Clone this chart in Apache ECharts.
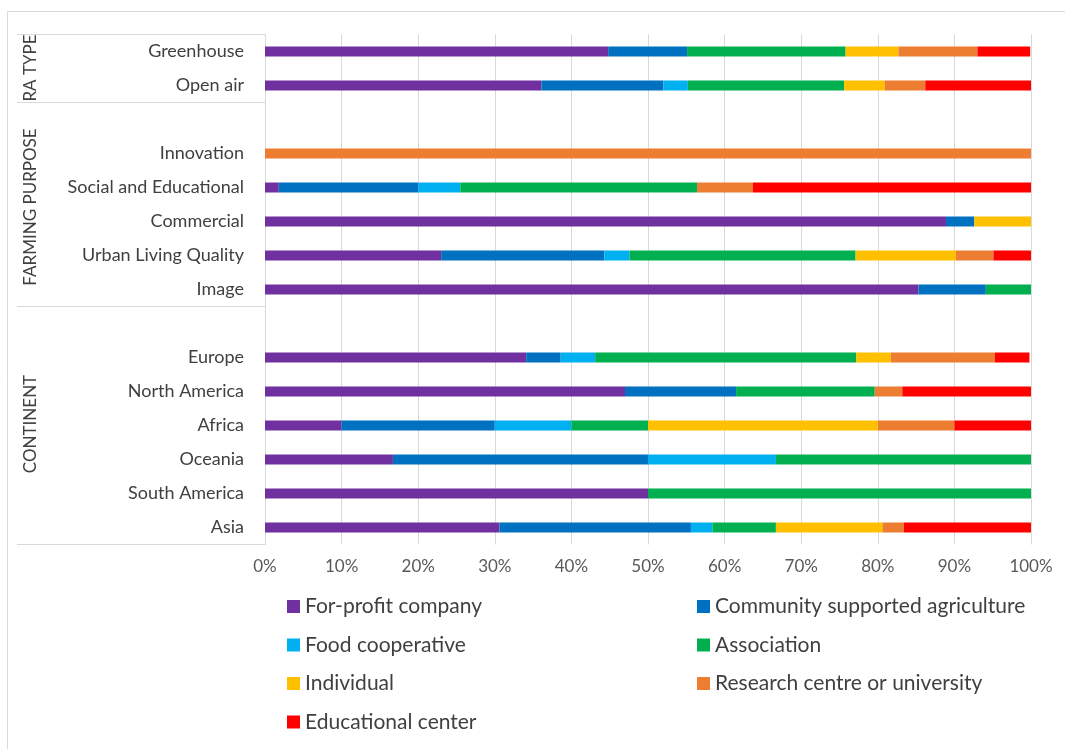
<!DOCTYPE html>
<html>
<head>
<meta charset="utf-8">
<script src="https://cdn.jsdelivr.net/npm/echarts@6/dist/echarts.min.js"></script>
<style>
html,body{margin:0;padding:0;background:#fff;}
#chart{width:1065px;height:749px;}
</style>
</head>
<body>
<div id="chart"></div>
<script>
var categories = ['Greenhouse','Open air',' ','Innovation','Social and Educational','Commercial','Urban Living Quality','Image','  ','Europe','North America','Africa','Oceania','South America','Asia'];
var seriesNames = ['For-profit company','Community supported agriculture','Food cooperative','Association','Individual','Research centre or university','Educational center'];
var forProfit   = [44.8, 36.1, null, 0,   1.8, 88.9, 23.0, 85.3, null, 34.1, 47.0, 10, 16.7, 50, 30.6];
var csa         = [10.3, 15.9, null, 0,  18.2,  3.7, 21.3,  8.8, null,  4.5, 14.5, 20, 33.3,  0, 25.0];
var coop        = [0,     3.2, null, 0,   5.5,  0,    3.3,  0,   null,  4.5,  0,   10, 16.7,  0,  2.8];
var association = [20.7, 20.4, null, 0,  30.9,  0,   29.5,  5.9, null, 34.1, 18.1, 10, 33.3, 50,  8.3];
var individual  = [6.9,   5.3, null, 0,   0,    7.4, 13.1,  0,   null,  4.5,  0,   30,  0,    0, 13.9];
var research    = [10.3,  5.3, null, 100, 7.3,  0,    4.9,  0,   null, 13.6,  3.6, 10,  0,    0,  2.8];
var educational = [6.9,  13.8, null, 0,  36.4,  0,    4.9,  0,   null,  4.5, 16.9, 10,  0,    0, 16.7];
var groupLabels = ['RA TYPE','FARMING PURPOSE','CONTINENT'];

var colors = ['#7030A0','#0070C0','#00B0F0','#00B050','#FFC000','#ED7D31','#FF0000'];
var values = [forProfit, csa, coop, association, individual, research, educational];

var chart = echarts.init(document.getElementById('chart'), null, {renderer:'canvas'});
var FONT = 'Lato';
var series = seriesNames.map(function(n,i){
  return {name:n, type:'bar', stack:'total', data:values[i], barWidth:10,
          itemStyle:{color:colors[i]}, emphasis:{disabled:true}};
});
var lineStyle = {stroke:'#d9d9d9', lineWidth:1};
var legendText = {fontFamily:FONT, fontSize:21, color:'#404040', lineHeight:24};
chart.setOption({
  backgroundColor:'#ffffff',
  animation:false,
  color:colors,
  grid:{left:265, right:34, top:34.5, height:510},
  xAxis:{type:'value', min:0, max:100, interval:10,
    axisLine:{show:false}, axisTick:{show:false},
    splitLine:{lineStyle:{color:'#d9d9d9', width:1}},
    axisLabel:{formatter:'{value}%', fontFamily:FONT, fontSize:17, color:'#595959', margin:14}},
  yAxis:{type:'category', data:categories, inverse:true,
    axisLine:{show:true, lineStyle:{color:'#d9d9d9'}}, axisTick:{show:false},
    axisLabel:{fontFamily:FONT, fontSize:18, color:'#404040', margin:21}},
  legend:[
    {data:[seriesNames[0],seriesNames[2],seriesNames[4],seriesNames[6]], orient:'vertical',
     left:282, top:589.5, itemWidth:13, itemHeight:13, icon:'rect', itemGap:14.5,
     textStyle:legendText},
    {data:[seriesNames[1],seriesNames[3],seriesNames[5]], orient:'vertical',
     left:692, top:589.5, itemWidth:13, itemHeight:13, icon:'rect', itemGap:14.5,
     textStyle:legendText}
  ],
  graphic:[
    {type:'rect', shape:{x:7.5, y:11.5, width:1100, height:800}, style:{fill:null, stroke:'#d9d9d9', lineWidth:1}, silent:true},
    {type:'line', shape:{x1:17, y1:34.5, x2:265, y2:34.5}, style:lineStyle, silent:true},
    {type:'line', shape:{x1:17, y1:102.5, x2:265, y2:102.5}, style:lineStyle, silent:true},
    {type:'line', shape:{x1:17, y1:306.5, x2:265, y2:306.5}, style:lineStyle, silent:true},
    {type:'line', shape:{x1:17, y1:544.5, x2:265, y2:544.5}, style:lineStyle, silent:true},
    {type:'text', x:31, y:68, rotation:Math.PI/2, style:{text:groupLabels[0], fontFamily:FONT, fontSize:17, fill:'#404040', align:'center', verticalAlign:'middle'}},
    {type:'text', x:31, y:207, rotation:Math.PI/2, style:{text:groupLabels[1], fontFamily:FONT, fontSize:17, fill:'#404040', align:'center', verticalAlign:'middle'}},
    {type:'text', x:31, y:424, rotation:Math.PI/2, style:{text:groupLabels[2], fontFamily:FONT, fontSize:17, fill:'#404040', align:'center', verticalAlign:'middle'}}
  ],
  series:series
});
</script>
</body>
</html>
